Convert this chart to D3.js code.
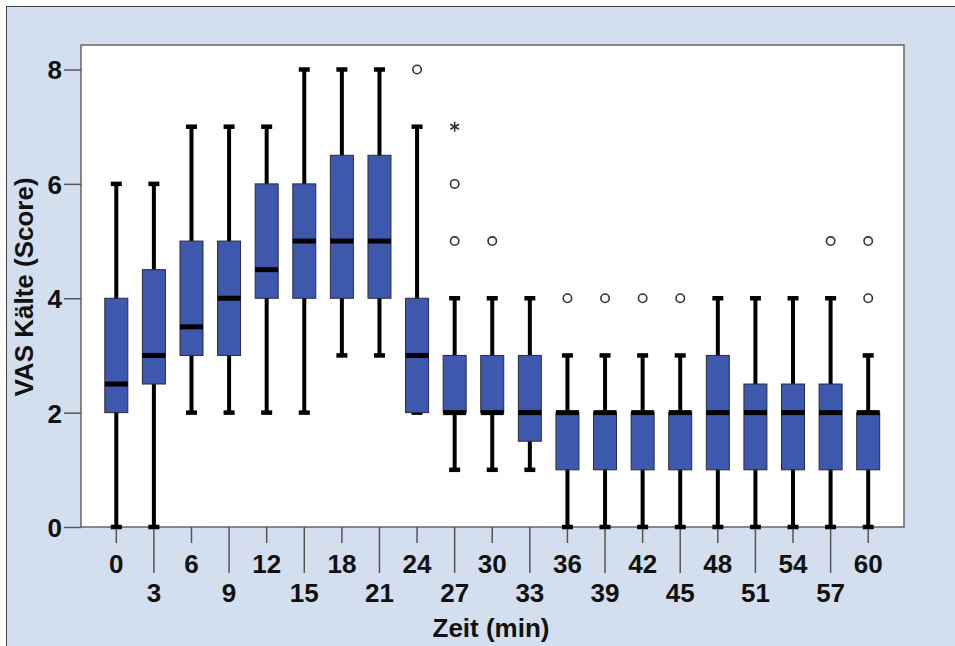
<!DOCTYPE html>
<html lang="de">
<head>
  <meta charset="utf-8">
  <title>VAS Kälte</title>
  <style>
    body { margin: 0; background: #fff; }
    svg text { font-family: "Liberation Sans", Arial, sans-serif; font-weight: bold; }
  </style>
</head>
<body>
  <script src="https://d3js.org/d3.v7.min.js"></script>
  <script>

      // Zeit (min)
      var zeiten = [0, 3, 6, 9, 12, 15, 18, 21, 24, 27, 30, 33, 36, 39, 42, 45, 48, 51, 54, 57, 60];
      var minWerte = [0, 0, 2, 2, 2, 2, 3, 3, 2, 1, 1, 1, 0, 0, 0, 0, 0, 0, 0, 0, 0];
      var q1Werte  = [2, 2.5, 3, 3, 4, 4, 4, 4, 2, 2, 2, 1.5, 1, 1, 1, 1, 1, 1, 1, 1, 1];
      var medianWerte = [2.5, 3, 3.5, 4, 4.5, 5, 5, 5, 3, 2, 2, 2, 2, 2, 2, 2, 2, 2, 2, 2, 2];
      var q3Werte  = [4, 4.5, 5, 5, 6, 6, 6.5, 6.5, 4, 3, 3, 3, 2, 2, 2, 2, 3, 2.5, 2.5, 2.5, 2];
      var maxWerte = [6, 6, 7, 7, 7, 8, 8, 8, 7, 4, 4, 4, 3, 3, 3, 3, 4, 4, 4, 4, 3];
      // Ausreisser (Kreis) und Extremwerte (Stern)
      var ausreisser = [[24, 8], [27, 6], [27, 5], [30, 5], [36, 4], [39, 4], [42, 4], [45, 4], [57, 5], [60, 5], [60, 4]];
      var extremwerte = [[27, 7]];
      var yTicks = [0, 2, 4, 6, 8];

      var w = 955;
      var h = 646;
      var pLeft = 81, pTop = 45, pRight = 904, pBottom = 527;

      var svg = d3.select("body").append("svg").attr("width", w).attr("height", h);

      // Hintergrund
      svg.append("rect").attr("x", 0).attr("y", 0).attr("width", w).attr("height", h).attr("fill", "#fff");
      svg.append("rect")
        .attr("x", 6.5).attr("y", 6.5).attr("width", w).attr("height", h)
        .attr("fill", "#d3dfee").attr("stroke", "#444").attr("stroke-width", 1);
      svg.append("rect")
        .attr("x", pLeft).attr("y", pTop).attr("width", pRight - pLeft).attr("height", pBottom - pTop)
        .attr("fill", "#fff").attr("stroke", "#666").attr("stroke-width", 1.5);

      var x = d3.scaleBand().domain(zeiten).range([97.5, 887]).paddingInner(0);
      var y = d3.scaleLinear().domain([0, 8]).range([pBottom, 69.5]);
      function cx(t) { return x(t) + x.bandwidth() / 2; }

      var boxes = zeiten.map(function(t, i){
        return { t: t, i: i, min: minWerte[i], q1: q1Werte[i], med: medianWerte[i], q3: q3Werte[i], max: maxWerte[i] };
      });

      // y-Achse
      var yAxis = d3.axisLeft(y).tickValues(yTicks).tickSize(17).tickPadding(2);
      var gy = svg.append("g").attr("transform", "translate(" + pLeft + ",0)").call(yAxis);
      gy.select(".domain").remove();
      gy.selectAll(".tick line").attr("stroke", "#555").attr("stroke-width", 1.5);
      gy.selectAll(".tick text").attr("font-size", 26).attr("fill", "#111").attr("dy", "0.36em")
        .attr("font-family", "'Liberation Sans', Arial, sans-serif");

      // x-Achse, abwechselnd kurze und lange Striche
      var xAxis = d3.axisBottom(x).tickSize(0).tickFormat("");
      var gx = svg.append("g").attr("transform", "translate(0," + pBottom + ")").call(xAxis);
      gx.select(".domain").remove();
      gx.selectAll(".tick").each(function(d, i){
        var g = d3.select(this);
        g.append("line").attr("y1", 0).attr("y2", i % 2 === 0 ? 16 : 46)
          .attr("stroke", "#555").attr("stroke-width", 1.5);
        g.append("text").attr("y", i % 2 === 0 ? 46 : 75)
          .attr("text-anchor", "middle").attr("font-size", 26).attr("fill", "#111")
          .attr("font-family", "'Liberation Sans', Arial, sans-serif")
          .text(d);
      });

      var plot = svg.append("g");

      // Whisker
      plot.selectAll("line.whisker")
        .data(boxes).enter().append("line")
        .attr("class", "whisker")
        .attr("x1", function(d){ return cx(d.t); })
        .attr("x2", function(d){ return cx(d.t); })
        .attr("y1", function(d){ return y(d.min); })
        .attr("y2", function(d){ return y(d.max); })
        .attr("stroke", "#000").attr("stroke-width", 4);

      // Whisker-Enden
      var capW = 11;
      ["min", "max"].forEach(function(k){
        plot.selectAll("line.cap-" + k)
          .data(boxes).enter().append("line")
          .attr("class", "cap-" + k)
          .attr("x1", function(d){ return cx(d.t) - capW / 2; })
          .attr("x2", function(d){ return cx(d.t) + capW / 2; })
          .attr("y1", function(d){ return y(d[k]); })
          .attr("y2", function(d){ return y(d[k]); })
          .attr("stroke", "#000").attr("stroke-width", 4.5);
      });

      // Boxen
      var boxW = 23;
      plot.selectAll("rect.box")
        .data(boxes).enter().append("rect")
        .attr("class", "box")
        .attr("x", function(d){ return cx(d.t) - boxW / 2; })
        .attr("y", function(d){ return y(d.q3); })
        .attr("width", boxW)
        .attr("height", function(d){ return y(d.q1) - y(d.q3); })
        .attr("fill", "#3e58ad").attr("stroke", "#2a2a40").attr("stroke-width", 1);

      // Median
      plot.selectAll("line.median")
        .data(boxes).enter().append("line")
        .attr("class", "median")
        .attr("x1", function(d){ return cx(d.t) - boxW / 2; })
        .attr("x2", function(d){ return cx(d.t) + boxW / 2; })
        .attr("y1", function(d){ return y(d.med); })
        .attr("y2", function(d){ return y(d.med); })
        .attr("stroke", "#000").attr("stroke-width", 5);

      // Ausreisser
      plot.selectAll("circle.out")
        .data(ausreisser).enter().append("circle")
        .attr("class", "out")
        .attr("cx", function(d){ return cx(d[0]); })
        .attr("cy", function(d){ return y(d[1]); })
        .attr("r", 4.2)
        .attr("fill", "none").attr("stroke", "#333").attr("stroke-width", 1.6);

      plot.selectAll("path.ext")
        .data(extremwerte).enter().append("path")
        .attr("class", "ext")
        .attr("transform", function(d){ return "translate(" + cx(d[0]) + "," + y(d[1]) + ")"; })
        .attr("d", d3.symbol().type(d3.symbolAsterisk).size(70))
        .attr("fill", "none").attr("stroke", "#333").attr("stroke-width", 1.6);

      // Achsentitel
      svg.append("text")
        .attr("x", 491).attr("y", 637)
        .attr("text-anchor", "middle").attr("font-size", 26).attr("fill", "#111")
        .text("Zeit (min)");

      svg.append("text")
        .attr("transform", "translate(33," + 287 + ") rotate(-90)")
        .attr("text-anchor", "middle").attr("font-size", 26).attr("fill", "#111")
        .text("VAS Kälte (Score)");

  </script>
</body>
</html>
